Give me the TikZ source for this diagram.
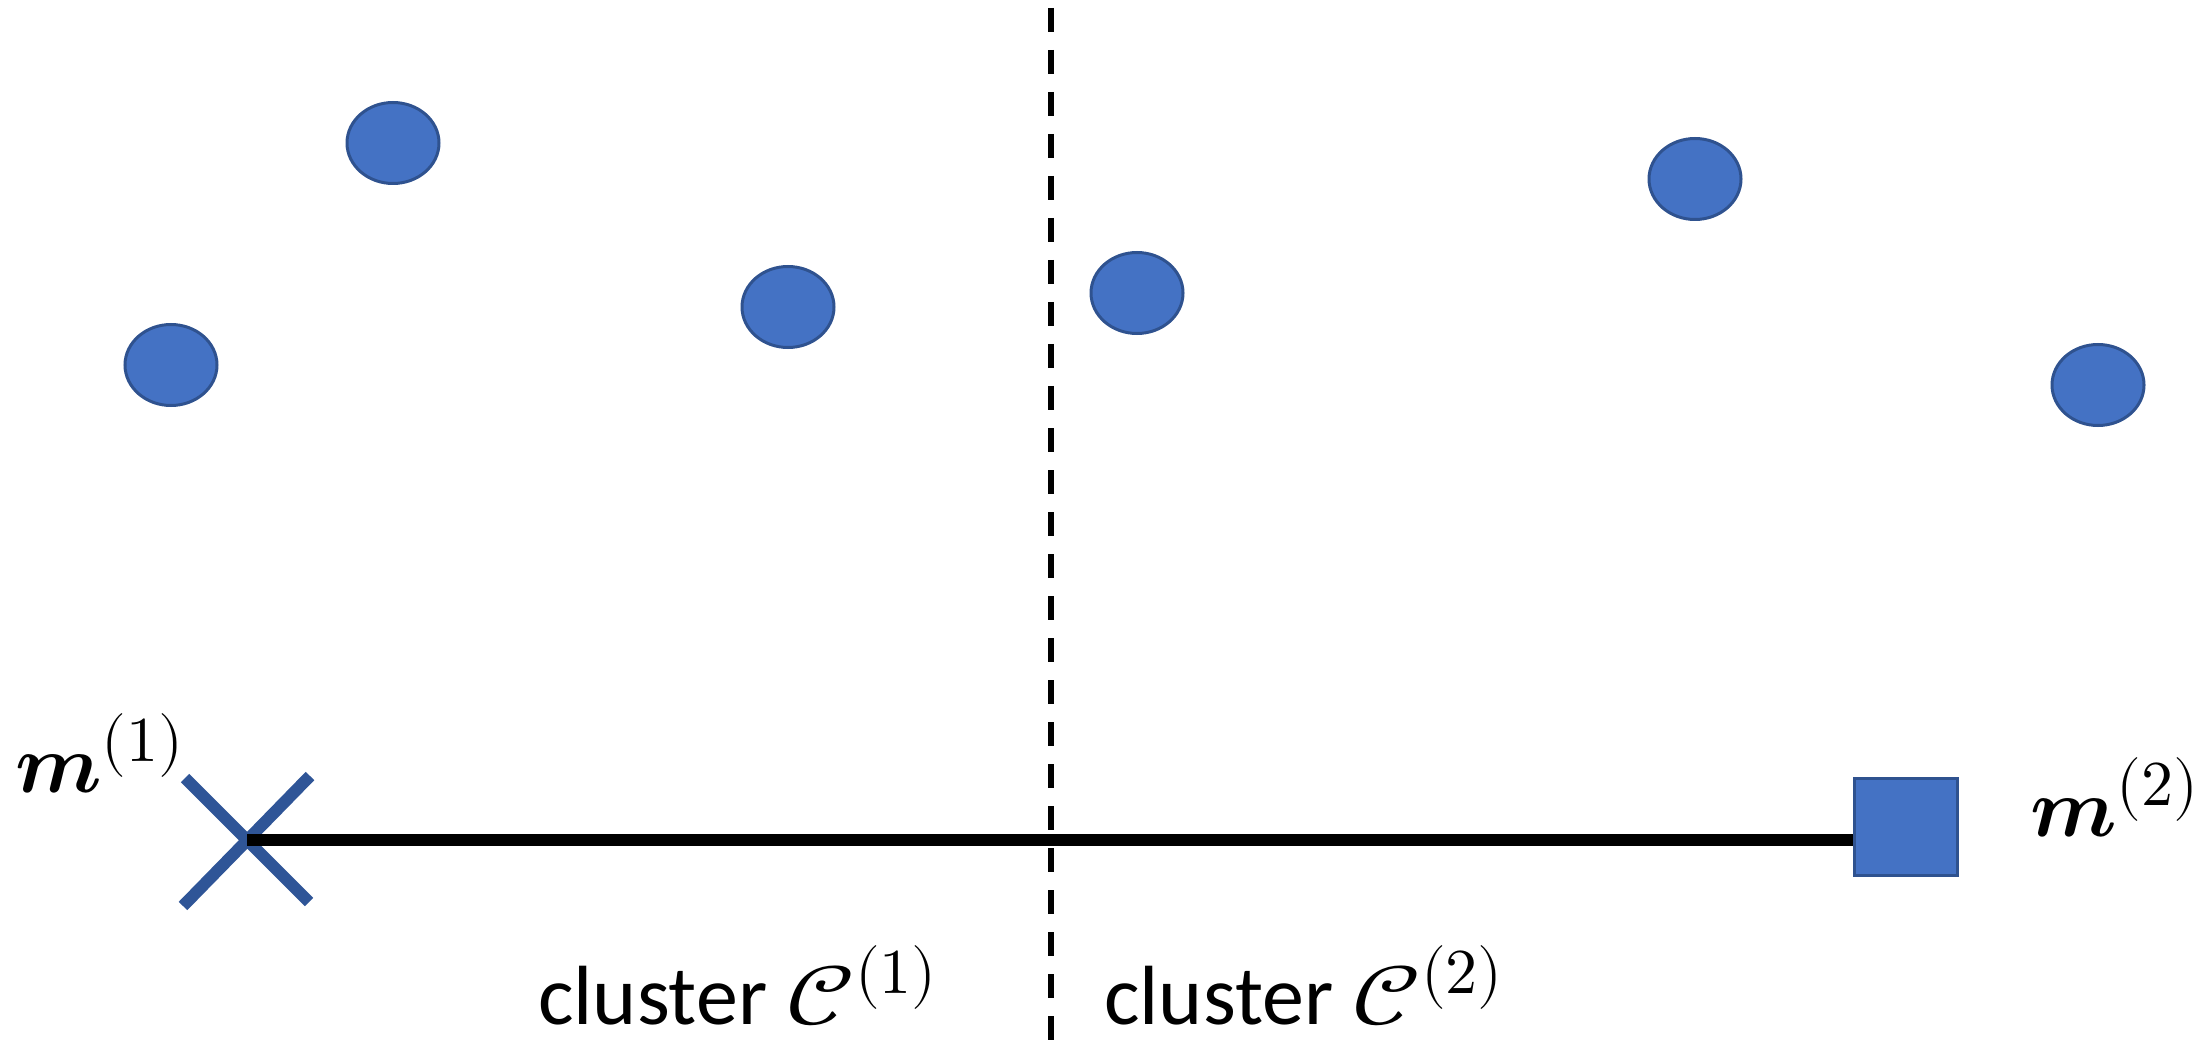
\documentclass[tikz,border=0pt]{standalone}
\usepackage{fontspec}
\usepackage{unicode-math}
\setmathfont{Latin Modern Math}
\newfontfamily\calibri{Carlito}
\DeclareMathSizes{84}{84}{64}{48}
\definecolor{dotfill}{HTML}{4472C4}
\definecolor{dotline}{HTML}{2F528F}
\definecolor{crosscol}{HTML}{2F5597}
\tikzset{
  dot/.style={ellipse, fill=dotfill, draw=dotline, line width=3pt, minimum width=92pt, minimum height=81pt, inner sep=0pt},
  lab/.style={inner sep=0pt, font=\fontsize{84}{98}\selectfont\calibri},
  crossline/.style={draw=crosscol, line width=12pt},
  sqbox/.style={draw=dotline, fill=dotfill, line width=3pt, minimum width=103pt, minimum height=97pt, inner sep=0pt},
}
\usetikzlibrary{shapes.geometric}
\newcommand{\bigC}{\scalebox{1.25}[1]{$\mathcal{C}$}}
\begin{document}
\begin{tikzpicture}[x=1pt,y=-1pt]
\useasboundingbox (0,0) rectangle (2195,1040);
% data points
\node[dot] (p1) at (171,365) {};
\node[dot] (p2) at (393,143) {};
\node[dot] (p3) at (788,307) {};
\node[dot] (p4) at (1137,293) {};
\node[dot] (p5) at (1695,179) {};
\node[dot] (p6) at (2098,385) {};
% dividing line
\coordinate (dtop) at (1051,8);
\coordinate (dbot) at (1051,1040);
\draw[line width=6pt, dash pattern=on 24pt off 18pt] (dtop) -- (dbot);
% centroid 1 (cross)
\coordinate (m1) at (247,840);
\draw[crossline] ([shift={(-62,-62)}]m1) -- ([shift={(62,62)}]m1);
\draw[crossline] ([shift={(63,-64)}]m1) -- ([shift={(-64,66)}]m1);
% centroid 2 (square)
\node[sqbox] (sq) at (1905.5,826.5) {};
\draw[line width=12pt] (m1) -- (m1 -| sq.west);
\node[sqbox] at (sq.center) {};
% labels
\node[lab, anchor=base west] (lm1) at (15,792) {$\symbfit{m}^{(1)}$};
\node[lab, anchor=base west] (lm2) at (2030,836) {$\symbfit{m}^{(2)}$};
\node[lab, anchor=base west] (c1) at (538,1024) {cluster \bigC$^{(1)}$};
\node[lab, anchor=base west] (c2) at (1104,1024) {cluster \bigC$^{(2)}$};
\end{tikzpicture}
\end{document}
